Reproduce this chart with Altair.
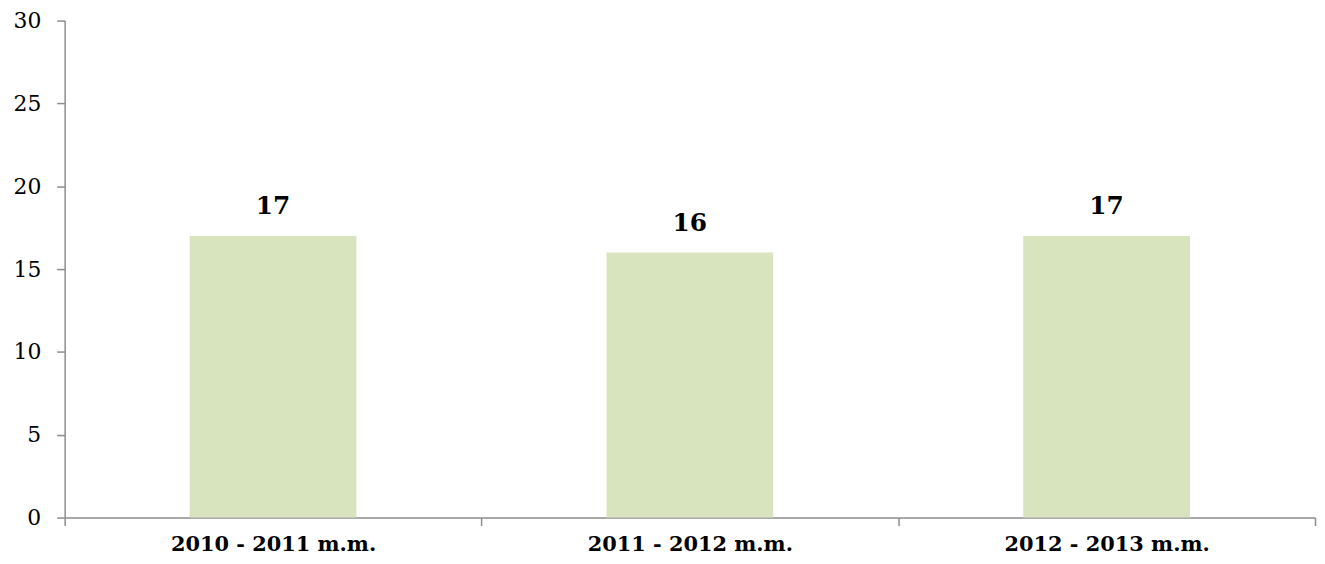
import altair as alt
import pandas as pd

categories = ["2010 - 2011 m.m.", "2011 - 2012 m.m.", "2012 - 2013 m.m."]
values = [17, 16, 17]

df = pd.DataFrame({"cat": categories, "val": values})

FONT = "DejaVu Serif"
AXIS_COLOR = "#8c8c8c"

x = alt.X("cat:N", sort=categories, title=None,
          scale=alt.Scale(paddingInner=0, paddingOuter=0),
          axis=alt.Axis(labelAngle=0, labelFont=FONT, labelFontSize=21, labelFontWeight="bold",
                        labelColor="#000000", labelPadding=8, labelLimit=0, tickBand="extent", tickSize=8,
                        tickColor=AXIS_COLOR, domainColor=AXIS_COLOR, domainWidth=1.5, tickWidth=1.5))

bars = alt.Chart(df).mark_bar(color="#d7e4bd", width=alt.RelativeBandSize(0.4)).encode(
    x=x,
    y=alt.Y("val:Q", title=None,
            scale=alt.Scale(domain=[0, 30], nice=False),
            axis=alt.Axis(values=[0, 5, 10, 15, 20, 25, 30], grid=False, labelFont=FONT,
                          labelFontSize=22, labelColor="#000000", labelPadding=16, tickSize=8,
                          tickColor=AXIS_COLOR, domainColor=AXIS_COLOR, domainWidth=1.5, tickWidth=1.5)),
)

labels = alt.Chart(df).mark_text(font=FONT, fontSize=25, fontWeight="bold", color="#000000",
                                  baseline="alphabetic", dy=-22).encode(
    x=alt.X("cat:N", sort=categories),
    y=alt.Y("val:Q"),
    text=alt.Text("val:Q"),
)

chart = (bars + labels).properties(
    width=1258, height=500,
    autosize=alt.AutoSizeParams(type="none"),
    padding={"left": 57, "top": 11, "right": 2, "bottom": 37},
).configure_view(stroke=None)

chart.save("out.html", embed_options={"renderer": "svg", "actions": False})
